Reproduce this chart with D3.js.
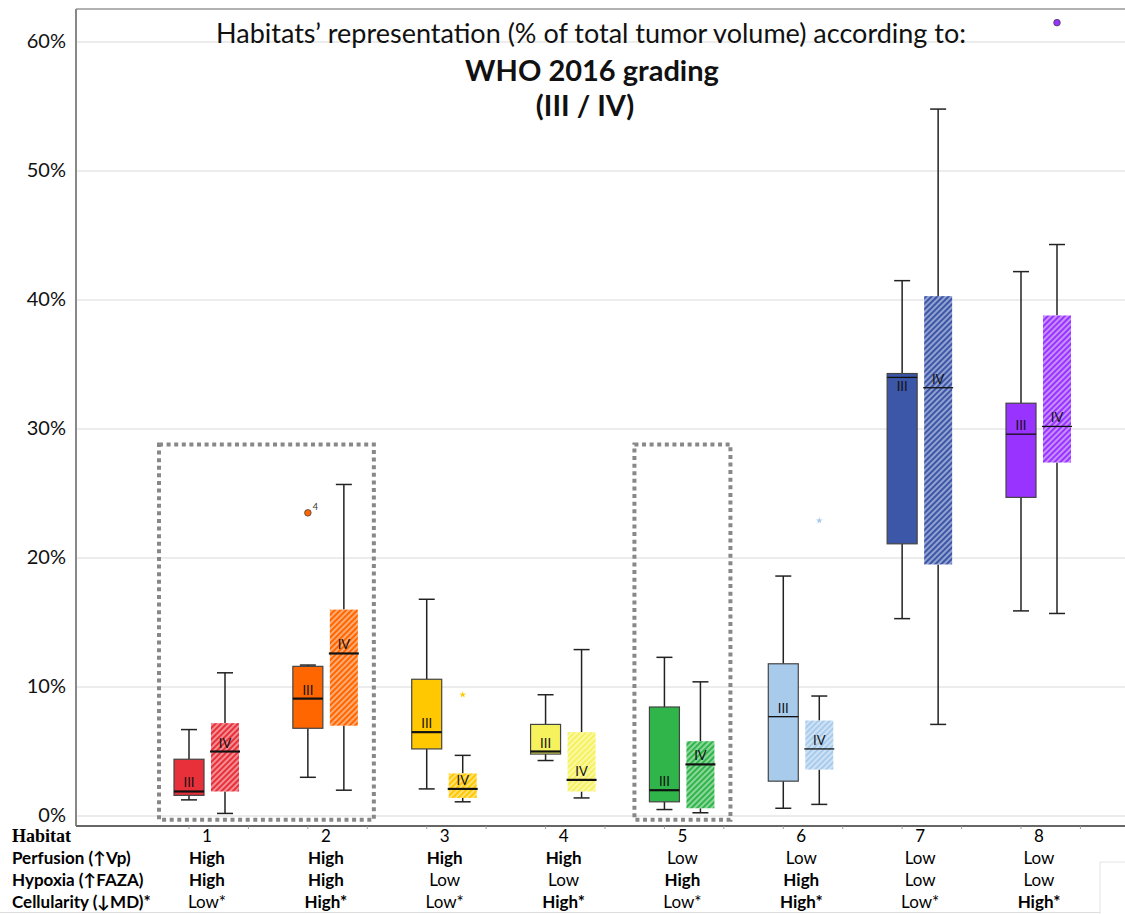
<!DOCTYPE html>
<html lang="en">
  <head>
    <meta charset="utf-8">
    <title>Habitats by WHO 2016 grading</title>
    <script src="https://cdn.jsdelivr.net/npm/d3@7"></script>
    <style>
      body { margin: 0; background: #fff; }
      svg { display: block; font-family: Lato, "Open Sans", sans-serif; }
    </style>
  </head>
  <body>
    <div id="chart"></div>
  </body>
</html>

<script>

const habitats = [1, 2, 3, 4, 5, 6, 7, 8];
const colors = ["#e8303a", "#ff6600", "#ffc800", "#f6f25e", "#2fb54a", "#a8cbec", "#3c56a8", "#9933ff"];

// grade III box stats (% of tumor volume)
const gradeIII_min = [1.25, 3.0, 2.1, 4.3, 0.5, 0.6, 15.3, 15.9];
const gradeIII_q1 = [1.6, 6.8, 5.2, 4.8, 1.1, 2.7, 21.1, 24.7];
const gradeIII_med = [1.9, 9.1, 6.5, 5.0, 2.0, 7.7, 34.0, 29.6];
const gradeIII_q3 = [4.4, 11.6, 10.6, 7.1, 8.45, 11.8, 34.3, 32.0];
const gradeIII_max = [6.7, 11.7, 16.8, 9.4, 12.3, 18.6, 41.5, 42.2];

// grade IV box stats
const gradeIV_min = [0.2, 2.0, 1.1, 1.4, 0.25, 0.9, 7.1, 15.7];
const gradeIV_q1 = [1.9, 7.0, 1.4, 1.9, 0.6, 3.6, 19.5, 27.4];
const gradeIV_med = [5.0, 12.6, 2.1, 2.8, 4.0, 5.2, 33.2, 30.2];
const gradeIV_q3 = [7.2, 16.0, 3.3, 6.5, 5.8, 7.4, 40.3, 38.8];
const gradeIV_max = [11.1, 25.7, 4.7, 12.9, 10.4, 9.3, 54.8, 44.3];

const outliers = [
  { habitat: 2, grade: "III", value: 23.5, shape: "circle", label: "4" },
  { habitat: 3, grade: "IV", value: 9.4, shape: "star", label: "" },
  { habitat: 6, grade: "IV", value: 22.9, shape: "star", label: "" },
  { habitat: 8, grade: "IV", value: 61.5, shape: "circle", label: "" }
];

// dotted highlight frames: [first habitat, last habitat]
const highlights = [[1, 2], [5, 5]];
const highlightTop = 28.8;

const yTicks = [0, 10, 20, 30, 40, 50, 60];

const rowLabels = ["Perfusion (\u2191Vp)", "Hypoxia (\u2191FAZA)", "Cellularity (\u2193MD)*"];
const perfusion = ["High", "High", "High", "High", "Low", "Low", "Low", "Low"];
const hypoxia = ["High", "High", "Low", "Low", "High", "High", "Low", "Low"];
const cellularity = ["Low*", "High*", "Low*", "High*", "Low*", "High*", "Low*", "High*"];

const width = 1125, height = 914;
const plotLeft = 76, plotTop = 9, axisY = 826;

const x = d3.scaleLinear().domain([1, 8]).range([207, 1039]);
const y = d3.scaleLinear().domain([0, 60]).range([816, 42]);
const offset = 18, boxW = 30, capW = 16;

const svg = d3.select("#chart").append("svg")
  .attr("width", width)
  .attr("height", height);

const defs = svg.append("defs");
colors.forEach((c, i) => {
  const p = defs.append("pattern")
    .attr("id", `hatch${i}`)
    .attr("patternUnits", "userSpaceOnUse")
    .attr("width", 4)
    .attr("height", 4)
    .attr("patternTransform", "rotate(45)");
  p.append("rect").attr("width", 4).attr("height", 4)
    .attr("fill", d3.interpolateRgb(c, "#fff")(0.45));
  p.append("rect").attr("width", 2).attr("height", 4).attr("fill", c);
});

// gridlines
svg.append("g")
  .selectAll("line")
  .data(yTicks)
  .join("line")
  .attr("x1", plotLeft).attr("x2", width)
  .attr("y1", d => y(d)).attr("y2", d => y(d))
  .style("stroke", "#e6e6e6")
  .style("stroke-width", 1.5);

// frame
svg.append("line")
  .attr("x1", plotLeft).attr("x2", width)
  .attr("y1", plotTop).attr("y2", plotTop)
  .style("stroke", "#999").style("stroke-width", 1.5);
svg.append("line")
  .attr("x1", plotLeft).attr("x2", plotLeft)
  .attr("y1", plotTop).attr("y2", axisY)
  .style("stroke", "#888").style("stroke-width", 2);
svg.append("line")
  .attr("x1", plotLeft).attr("x2", width)
  .attr("y1", axisY).attr("y2", axisY)
  .style("stroke", "#666").style("stroke-width", 2);

// small ticks under the axis
svg.append("g")
  .selectAll("line")
  .data(d3.range(16))
  .join("line")
  .attr("x1", d => x(1) - offset + d * (x(2) - x(1)) / 2)
  .attr("x2", d => x(1) - offset + d * (x(2) - x(1)) / 2)
  .attr("y1", axisY).attr("y2", axisY + 3)
  .style("stroke", "#999");

// y axis
const yAxis = svg.append("g")
  .attr("transform", `translate(68,0)`)
  .call(d3.axisLeft(y).tickValues(yTicks).tickSize(0).tickPadding(2).tickFormat(d => d + "%"));
yAxis.select(".domain").remove();
yAxis.selectAll("text")
  .attr("dy", "0.25em")
  .style("font-family", "Lato, sans-serif")
  .style("font-size", "20px")
  .style("fill", "#111");

// title
const title = svg.append("g").attr("text-anchor", "middle").style("fill", "#111");
title.append("text").attr("x", 591).attr("y", 43)
  .style("font-size", "27px")
  .text("Habitats\u2019 representation (% of total tumor volume) according to:");
title.append("text").attr("x", 592).attr("y", 81)
  .style("font-size", "29px").style("font-weight", "bold")
  .text("WHO 2016 grading");
title.append("text").attr("x", 585).attr("y", 116)
  .style("font-size", "29px").style("font-weight", "bold")
  .text("(III / IV)");

// dotted frames
svg.append("g")
  .selectAll("rect")
  .data(highlights)
  .join("rect")
  .attr("x", d => x(d[0]) - 48)
  .attr("y", y(highlightTop))
  .attr("width", d => x(d[1]) - x(d[0]) + 96)
  .attr("height", d => y(-0.3) - y(highlightTop))
  .style("fill", "none")
  .style("stroke", "#888")
  .style("stroke-width", 4)
  .style("stroke-dasharray", "4,3.6");

// box data
const boxes = [];
habitats.forEach((h, i) => {
  boxes.push({ h, i, grade: "III", dx: -offset, min: gradeIII_min[i], q1: gradeIII_q1[i], med: gradeIII_med[i], q3: gradeIII_q3[i], max: gradeIII_max[i] });
  boxes.push({ h, i, grade: "IV", dx: offset, min: gradeIV_min[i], q1: gradeIV_q1[i], med: gradeIV_med[i], q3: gradeIV_q3[i], max: gradeIV_max[i] });
});

const g = svg.append("g")
  .selectAll("g")
  .data(boxes)
  .join("g")
  .attr("transform", d => `translate(${x(d.h) + d.dx},0)`);

// whiskers
g.append("line")
  .attr("y1", d => y(d.max)).attr("y2", d => y(d.q3))
  .style("stroke", "#222").style("stroke-width", 1.5);
g.append("line")
  .attr("y1", d => y(d.q1)).attr("y2", d => y(d.min))
  .style("stroke", "#222").style("stroke-width", 1.5);
g.append("line")
  .attr("x1", -capW / 2).attr("x2", capW / 2)
  .attr("y1", d => y(d.max)).attr("y2", d => y(d.max))
  .style("stroke", "#222").style("stroke-width", 1.5);
g.append("line")
  .attr("x1", -capW / 2).attr("x2", capW / 2)
  .attr("y1", d => y(d.min)).attr("y2", d => y(d.min))
  .style("stroke", "#222").style("stroke-width", 1.5);

// boxes
g.append("rect")
  .attr("x", d => d.grade == "III" ? -boxW / 2 : -boxW / 2 + 1)
  .attr("width", d => d.grade == "III" ? boxW : boxW - 2)
  .attr("y", d => y(d.q3))
  .attr("height", d => y(d.q1) - y(d.q3))
  .style("fill", d => d.grade == "III" ? colors[d.i] : `url(#hatch${d.i})`)
  .style("stroke", d => d.grade == "III" ? "#444" : "none")
  .style("stroke-width", 1.2);

// medians
g.append("line")
  .attr("x1", -boxW / 2).attr("x2", boxW / 2)
  .attr("y1", d => y(d.med)).attr("y2", d => y(d.med))
  .style("stroke", "#111")
  .style("stroke-width", d => d.i >= 5 ? 1.3 : 2.2);

// grade labels
g.append("text")
  .attr("text-anchor", "middle")
  .attr("y", d => (y(d.med) - y(d.q3) < 10) ? y(d.med) + 14 : y(d.med) - 4)
  .style("font-size", "13px")
  .style("fill", "#111")
  .text(d => d.grade);

// outliers
const out = svg.append("g")
  .selectAll("g")
  .data(outliers)
  .join("g")
  .attr("transform", d => `translate(${x(d.habitat) + (d.grade == "III" ? -offset : offset)},${y(d.value)})`);
out.append("path")
  .attr("d", d => d3.symbol(d.shape == "star" ? d3.symbolStar : d3.symbolCircle, d.shape == "star" ? 14 : 34)())
  .style("fill", d => colors[d.habitat - 1])
  .style("stroke", d => d.shape == "star" ? "none" : "#444")
  .style("stroke-width", 0.8);
out.append("text")
  .attr("x", 5).attr("y", -3)
  .style("font-size", "9px")
  .style("fill", "#333")
  .text(d => d.label);

// table under the chart
const table = svg.append("g");
const rowY = [842, 864, 886, 908];
table.append("text")
  .attr("x", 12).attr("y", rowY[0])
  .style("font-family", "'Liberation Serif', serif")
  .style("font-weight", "bold")
  .style("font-size", "18px")
  .text("Habitat");
rowLabels.forEach((lab, r) => {
  table.append("text")
    .attr("x", 12).attr("y", rowY[r + 1])
    .style("font-weight", "bold")
    .style("font-size", "17px")
    .text(lab);
});
table.append("g")
  .selectAll("text")
  .data(habitats)
  .join("text")
  .attr("x", d => x(d)).attr("y", rowY[0])
  .attr("text-anchor", "middle")
  .style("font-size", "17px")
  .text(d => d);
[perfusion, hypoxia, cellularity].forEach((vals, r) => {
  table.append("g")
    .selectAll("text")
    .data(vals)
    .join("text")
    .attr("x", (d, i) => x(habitats[i]))
    .attr("y", rowY[r + 1])
    .attr("text-anchor", "middle")
    .style("font-size", "17px")
    .style("font-weight", d => d.startsWith("High") ? "bold" : "normal")
    .text(d => d);
});
table.append("line")
  .attr("x1", 0).attr("x2", 1100)
  .attr("y1", 912.5).attr("y2", 912.5)
  .style("stroke", "#ddd");
table.append("line")
  .attr("x1", 1100).attr("x2", width)
  .attr("y1", 862).attr("y2", 862)
  .style("stroke", "#e4e4e4");
table.append("line")
  .attr("x1", 1100).attr("x2", 1100)
  .attr("y1", 862).attr("y2", height)
  .style("stroke", "#e4e4e4");

</script>
